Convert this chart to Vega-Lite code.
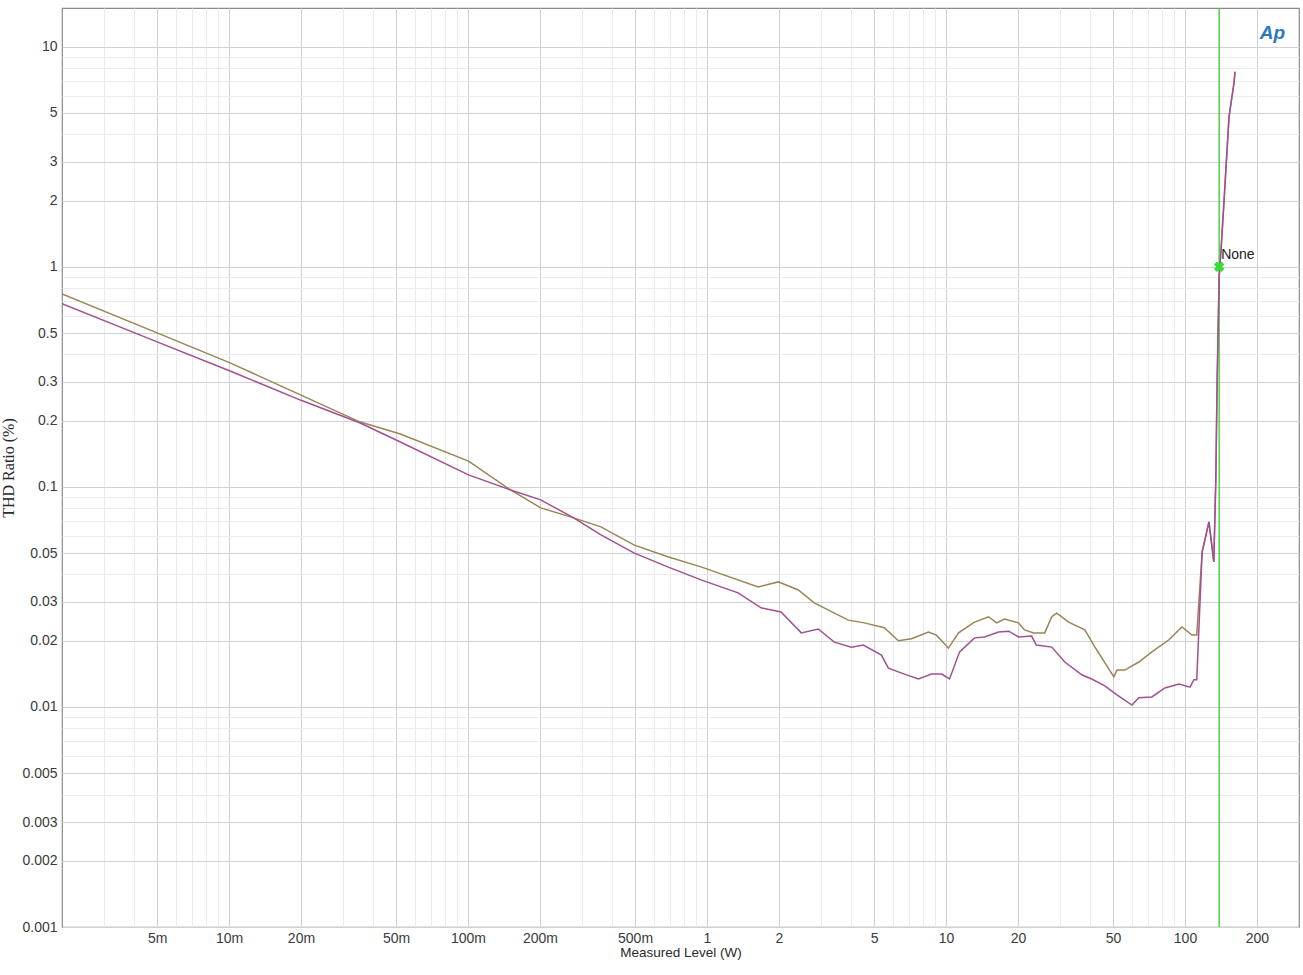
{
  "$schema": "https://vega.github.io/schema/vega-lite/v6.json",
  "width": 1237,
  "height": 919,
  "autosize": {"type": "none"},
  "padding": {"left": 62, "top": 8, "right": 4, "bottom": 48},
  "background": "white",
  "config": {
    "view": {"stroke": "#8a8a8a", "strokeWidth": 1.2},
    "font": "Liberation Sans",
    "axis": {"labelFont": "Liberation Sans", "titleFont": "Liberation Sans", "labelColor": "#3a3a3a", "titleColor": "#2a2a2a", "titleFontWeight": "normal"}
  },
  "title": {"text": "Ap", "anchor": "end", "orient": "top", "offset": -36, "dx": -14, "fontSize": 19, "fontStyle": "italic", "fontWeight": "bold", "color": "#2b78bf", "font": "Liberation Sans"},
  "datasets": {
    "curves": [
      {"ch": "A", "w": 0.002, "thd": 0.753},
      {"ch": "A", "w": 0.005, "thd": 0.501},
      {"ch": "A", "w": 0.0101, "thd": 0.366},
      {"ch": "A", "w": 0.0199, "thd": 0.262},
      {"ch": "A", "w": 0.0354, "thd": 0.197},
      {"ch": "A", "w": 0.0521, "thd": 0.174},
      {"ch": "A", "w": 0.1005, "thd": 0.131},
      {"ch": "A", "w": 0.1507, "thd": 0.0968},
      {"ch": "A", "w": 0.2014, "thd": 0.0803},
      {"ch": "A", "w": 0.2767, "thd": 0.0723},
      {"ch": "A", "w": 0.36, "thd": 0.0658},
      {"ch": "A", "w": 0.494, "thd": 0.0545},
      {"ch": "A", "w": 0.685, "thd": 0.0481},
      {"ch": "A", "w": 0.944, "thd": 0.0433},
      {"ch": "A", "w": 1.636, "thd": 0.0351},
      {"ch": "A", "w": 1.985, "thd": 0.037},
      {"ch": "A", "w": 2.41, "thd": 0.034},
      {"ch": "A", "w": 2.81, "thd": 0.0297},
      {"ch": "A", "w": 3.9, "thd": 0.0248},
      {"ch": "A", "w": 4.55, "thd": 0.0241},
      {"ch": "A", "w": 5.52, "thd": 0.0229},
      {"ch": "A", "w": 6.32, "thd": 0.02},
      {"ch": "A", "w": 7.17, "thd": 0.0204},
      {"ch": "A", "w": 8.45, "thd": 0.0219},
      {"ch": "A", "w": 9.12, "thd": 0.0212},
      {"ch": "A", "w": 10.24, "thd": 0.0185},
      {"ch": "A", "w": 11.28, "thd": 0.0217},
      {"ch": "A", "w": 13.16, "thd": 0.0243},
      {"ch": "A", "w": 15.07, "thd": 0.0257},
      {"ch": "A", "w": 16.28, "thd": 0.0241},
      {"ch": "A", "w": 17.59, "thd": 0.0251},
      {"ch": "A", "w": 20.1, "thd": 0.0241},
      {"ch": "A", "w": 21.3, "thd": 0.0224},
      {"ch": "A", "w": 23.3, "thd": 0.0217},
      {"ch": "A", "w": 25.9, "thd": 0.0217},
      {"ch": "A", "w": 27.7, "thd": 0.0257},
      {"ch": "A", "w": 29.1, "thd": 0.0267},
      {"ch": "A", "w": 32.6, "thd": 0.0243},
      {"ch": "A", "w": 38.1, "thd": 0.0224},
      {"ch": "A", "w": 42.0, "thd": 0.0187},
      {"ch": "A", "w": 50.4, "thd": 0.0137},
      {"ch": "A", "w": 51.9, "thd": 0.0147},
      {"ch": "A", "w": 56.0, "thd": 0.0147},
      {"ch": "A", "w": 64.1, "thd": 0.016},
      {"ch": "A", "w": 72.7, "thd": 0.0178},
      {"ch": "A", "w": 85.7, "thd": 0.0202},
      {"ch": "A", "w": 97.1, "thd": 0.0231},
      {"ch": "A", "w": 107, "thd": 0.0212},
      {"ch": "A", "w": 112, "thd": 0.0212},
      {"ch": "A", "w": 118, "thd": 0.0507},
      {"ch": "A", "w": 126, "thd": 0.0693},
      {"ch": "A", "w": 132, "thd": 0.0456},
      {"ch": "A", "w": 134.6, "thd": 0.108},
      {"ch": "A", "w": 136.3, "thd": 0.297},
      {"ch": "A", "w": 139, "thd": 0.9},
      {"ch": "A", "w": 141.6, "thd": 1.2},
      {"ch": "A", "w": 145.8, "thd": 2.02},
      {"ch": "A", "w": 150, "thd": 3.4},
      {"ch": "A", "w": 152.9, "thd": 4.81},
      {"ch": "A", "w": 160.4, "thd": 6.86},
      {"ch": "A", "w": 162, "thd": 7.7},
      {"ch": "B", "w": 0.002, "thd": 0.68},
      {"ch": "B", "w": 0.005, "thd": 0.456},
      {"ch": "B", "w": 0.0101, "thd": 0.336},
      {"ch": "B", "w": 0.0199, "thd": 0.248},
      {"ch": "B", "w": 0.0354, "thd": 0.195},
      {"ch": "B", "w": 0.0521, "thd": 0.16},
      {"ch": "B", "w": 0.1005, "thd": 0.1134},
      {"ch": "B", "w": 0.1507, "thd": 0.0968},
      {"ch": "B", "w": 0.2014, "thd": 0.0873},
      {"ch": "B", "w": 0.2767, "thd": 0.0723},
      {"ch": "B", "w": 0.36, "thd": 0.0605},
      {"ch": "B", "w": 0.494, "thd": 0.0501},
      {"ch": "B", "w": 0.685, "thd": 0.0433},
      {"ch": "B", "w": 0.944, "thd": 0.0378},
      {"ch": "B", "w": 1.349, "thd": 0.033},
      {"ch": "B", "w": 1.684, "thd": 0.0282},
      {"ch": "B", "w": 2.04, "thd": 0.027},
      {"ch": "B", "w": 2.48, "thd": 0.0217},
      {"ch": "B", "w": 2.92, "thd": 0.0226},
      {"ch": "B", "w": 3.41, "thd": 0.0197},
      {"ch": "B", "w": 4.02, "thd": 0.0187},
      {"ch": "B", "w": 4.51, "thd": 0.0191},
      {"ch": "B", "w": 5.37, "thd": 0.0172},
      {"ch": "B", "w": 5.74, "thd": 0.015},
      {"ch": "B", "w": 6.7, "thd": 0.0141},
      {"ch": "B", "w": 7.67, "thd": 0.0134},
      {"ch": "B", "w": 8.69, "thd": 0.0141},
      {"ch": "B", "w": 9.58, "thd": 0.0141},
      {"ch": "B", "w": 10.35, "thd": 0.0134},
      {"ch": "B", "w": 11.4, "thd": 0.0178},
      {"ch": "B", "w": 13.16, "thd": 0.0206},
      {"ch": "B", "w": 14.5, "thd": 0.0208},
      {"ch": "B", "w": 16.6, "thd": 0.0219},
      {"ch": "B", "w": 18.3, "thd": 0.0221},
      {"ch": "B", "w": 20.1, "thd": 0.0208},
      {"ch": "B", "w": 22.8, "thd": 0.021},
      {"ch": "B", "w": 23.9, "thd": 0.0191},
      {"ch": "B", "w": 27.7, "thd": 0.0187},
      {"ch": "B", "w": 31.4, "thd": 0.016},
      {"ch": "B", "w": 37.0, "thd": 0.014},
      {"ch": "B", "w": 40.7, "thd": 0.0134},
      {"ch": "B", "w": 46.2, "thd": 0.01246},
      {"ch": "B", "w": 51.9, "thd": 0.01134},
      {"ch": "B", "w": 60.0, "thd": 0.0102},
      {"ch": "B", "w": 64.1, "thd": 0.011},
      {"ch": "B", "w": 72.7, "thd": 0.0111},
      {"ch": "B", "w": 82.4, "thd": 0.0122},
      {"ch": "B", "w": 94.4, "thd": 0.0127},
      {"ch": "B", "w": 105, "thd": 0.0123},
      {"ch": "B", "w": 109, "thd": 0.0133},
      {"ch": "B", "w": 112, "thd": 0.0133},
      {"ch": "B", "w": 118, "thd": 0.0507},
      {"ch": "B", "w": 126, "thd": 0.0693},
      {"ch": "B", "w": 132, "thd": 0.0456},
      {"ch": "B", "w": 134.6, "thd": 0.108},
      {"ch": "B", "w": 136.3, "thd": 0.297},
      {"ch": "B", "w": 139, "thd": 0.9},
      {"ch": "B", "w": 141.6, "thd": 1.2},
      {"ch": "B", "w": 145.8, "thd": 2.02},
      {"ch": "B", "w": 150, "thd": 3.4},
      {"ch": "B", "w": 152.9, "thd": 4.81},
      {"ch": "B", "w": 160.4, "thd": 6.86},
      {"ch": "B", "w": 162, "thd": 7.7}
    ],
    "cursor": [{"w": 139, "thd": 1, "label": "None"}]
  },
  "layer": [
    {
      "data": {"name": "cursor"},
      "mark": {"type": "rule", "color": "#33cc33", "strokeWidth": 1.3},
      "encoding": {
        "x": {"field": "w", "type": "quantitative",
          "scale": {"type": "log", "domain": [0.002, 300], "nice": false},
          "axis": {"orient": "bottom", "values": [0.003, 0.004, 0.006, 0.007, 0.008, 0.009, 0.03, 0.04, 0.06, 0.07, 0.08, 0.09, 0.3, 0.4, 0.6, 0.7, 0.8, 0.9, 3, 4, 6, 7, 8, 9, 30, 40, 60, 70, 80, 90],
            "grid": true, "gridColor": "#ebebeb", "gridWidth": 1, "labels": false, "ticks": false, "domain": false, "title": null}
        },
        "y": {"datum": 0.001, "type": "quantitative",
          "scale": {"type": "log", "domain": [0.001, 15], "nice": false},
          "axis": {"orient": "left", "values": [0.004, 0.006, 0.007, 0.008, 0.009, 0.04, 0.06, 0.07, 0.08, 0.09, 0.4, 0.6, 0.7, 0.8, 0.9, 4, 6, 7, 8, 9],
            "grid": true, "gridColor": "#ebebeb", "gridWidth": 1, "labels": false, "ticks": false, "domain": false, "title": null}
        },
        "y2": {"datum": 15}
      }
    },
    {
      "data": {"name": "curves"},
      "mark": {"type": "line", "strokeWidth": 1.5, "clip": true},
      "encoding": {
        "x": {"field": "w", "type": "quantitative",
          "axis": {"orient": "bottom", "values": [0.005, 0.01, 0.02, 0.05, 0.1, 0.2, 0.5, 1, 2, 5, 10, 20, 50, 100, 200],
            "labelExpr": "datum.value < 1 ? format(round(datum.value*1000), 'd') + 'm' : format(datum.value, 'd')",
            "grid": true, "gridColor": "#d2d2d2", "gridWidth": 1, "ticks": false, "domain": false,
            "labelFontSize": 14, "labelPadding": 4, "title": "Measured Level (W)", "titleFontSize": 13.5, "titlePadding": 0}
        },
        "y": {"field": "thd", "type": "quantitative",
          "axis": {"orient": "left", "values": [0.001, 0.002, 0.003, 0.005, 0.01, 0.02, 0.03, 0.05, 0.1, 0.2, 0.3, 0.5, 1, 2, 3, 5, 10],
            "labelExpr": "format(datum.value, '~g')",
            "grid": true, "gridColor": "#d2d2d2", "gridWidth": 1, "ticks": false, "domain": false,
            "labelFontSize": 14, "labelPadding": 5, "title": "THD Ratio (%)", "titleFont": "Liberation Serif", "titleFontSize": 16, "titlePadding": 5}
        },
        "color": {"field": "ch", "type": "nominal", "scale": {"domain": ["A", "B"], "range": ["#9b8457", "#a34f93"]}, "legend": null}
      }
    },
    {
      "data": {"name": "cursor"},
      "mark": {"type": "point", "shape": "cross", "angle": 45, "filled": true, "size": 110, "color": "#33dd33", "opacity": 1},
      "encoding": {
        "x": {"field": "w", "type": "quantitative", "axis": null},
        "y": {"field": "thd", "type": "quantitative", "axis": null}
      }
    },
    {
      "data": {"name": "cursor"},
      "mark": {"type": "text", "align": "left", "baseline": "bottom", "dx": 2, "dy": -5, "fontSize": 14, "color": "#222222", "font": "Liberation Sans"},
      "encoding": {
        "x": {"field": "w", "type": "quantitative", "axis": null},
        "y": {"field": "thd", "type": "quantitative", "axis": null},
        "text": {"field": "label"}
      }
    }
  ],
  "resolve": {"axis": {"x": "independent", "y": "independent"}}
}
